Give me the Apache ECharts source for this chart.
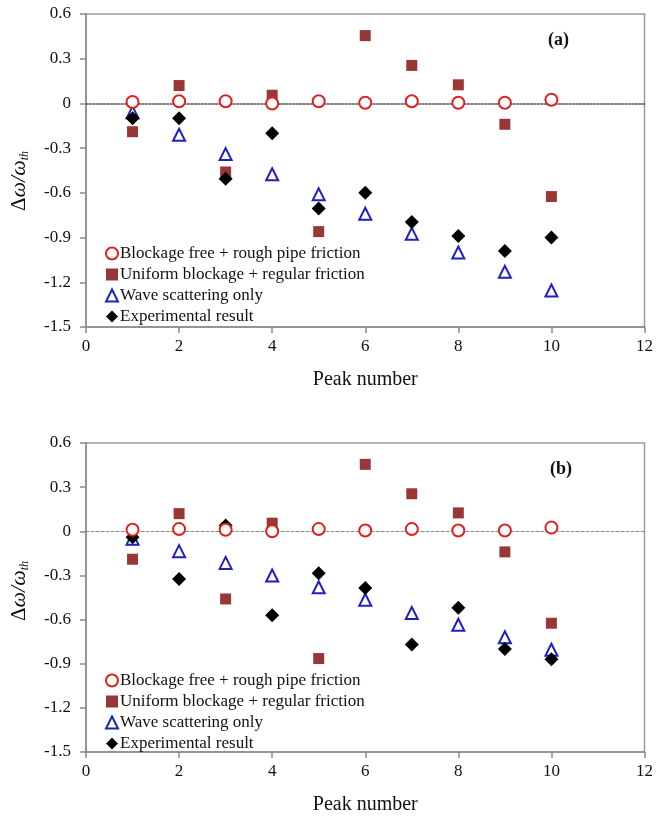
<!DOCTYPE html>
<html>
<head>
<meta charset="utf-8">
<script src="https://cdn.jsdelivr.net/npm/echarts@6/dist/echarts.min.js"></script>
<style>
html,body{margin:0;padding:0;background:#fff;}
#c{width:656px;height:816px;}
</style>
</head>
<body>
<div id="c"></div>
<script>
const peaks = [1, 2, 3, 4, 5, 6, 7, 8, 9, 10];
const seriesNames = ['Blockage free + rough pipe friction', 'Uniform blockage + regular friction', 'Wave scattering only', 'Experimental result'];
const yTicks = [-1.5, -1.2, -0.9, -0.6, -0.3, 0, 0.3, 0.6];
const xTicks = [0, 2, 4, 6, 8, 10, 12];

const aFree = [0.01, 0.015, 0.015, 0.0, 0.015, 0.005, 0.015, 0.005, 0.005, 0.025];
const aUniform = [-0.19, 0.12, -0.46, 0.055, -0.86, 0.455, 0.255, 0.125, -0.14, -0.625];
const aWave = [-0.06, -0.21, -0.34, -0.475, -0.61, -0.74, -0.875, -1.0, -1.13, -1.255];
const aExp = [-0.1, -0.1, -0.505, -0.2, -0.705, -0.6, -0.795, -0.89, -0.99, -0.9];

const bFree = [0.01, 0.015, 0.01, 0.0, 0.015, 0.005, 0.015, 0.005, 0.005, 0.025];
const bUniform = [-0.19, 0.12, -0.46, 0.055, -0.865, 0.455, 0.255, 0.125, -0.14, -0.625];
const bWave = [-0.05, -0.135, -0.215, -0.3, -0.38, -0.465, -0.555, -0.635, -0.72, -0.805];
const bExp = [-0.04, -0.325, 0.04, -0.57, -0.285, -0.385, -0.77, -0.52, -0.8, -0.87];

const panelLabels = ['(a)', '(b)'];
const xName = 'Peak number';

const FONT = '"Liberation Serif", "Times New Roman", serif';
const pair = (ys) => peaks.map((x, i) => [x, ys[i]]);

function xAxisCfg(gi) {
  return {
    gridIndex: gi, type: 'value', min: xTicks[0], max: xTicks[xTicks.length - 1], interval: 2,
    position: 'bottom',
    name: xName, nameLocation: 'middle', nameGap: 43,
    nameTextStyle: { fontFamily: FONT, fontSize: 20, color: '#111' },
    axisLine: { show: true, onZero: false, lineStyle: { color: '#8a8a8a', width: 1.5 } },
    axisTick: { show: true, inside: false, length: 6, lineStyle: { color: '#8a8a8a', width: 1.5 } },
    axisLabel: { margin: 11, fontFamily: FONT, fontSize: 17, color: '#111' },
    splitLine: { show: false }
  };
}
// dashed zero reference line drawn as an axis line sitting on y = 0
function zeroAxisCfg(gi, lineStyle) {
  return {
    gridIndex: gi, type: 'value', min: xTicks[0], max: xTicks[xTicks.length - 1], interval: 2,
    position: 'bottom', offset: 0,
    axisLine: { show: true, onZero: true, lineStyle: lineStyle },
    axisTick: { show: false }, axisLabel: { show: false }, splitLine: { show: false }
  };
}
function yAxisCfg(gi) {
  return {
    gridIndex: gi, type: 'value', min: yTicks[0], max: yTicks[yTicks.length - 1], interval: 0.3,
    axisLine: { show: true, onZero: false, lineStyle: { color: '#8a8a8a', width: 1.5 } },
    axisTick: { show: true, inside: false, length: 6, lineStyle: { color: '#8a8a8a', width: 1.5 } },
    axisLabel: { margin: 15, fontFamily: FONT, fontSize: 17, color: '#111',
      formatter: (v) => String(Number(v.toFixed(1))) },
    splitLine: { show: false }
  };
}

function seriesFor(gi, free, uniform, wave, exp) {
  return [
    { name: seriesNames[0], type: 'scatter', xAxisIndex: gi, yAxisIndex: gi, data: pair(free),
      symbol: 'circle', symbolSize: 12,
      itemStyle: { color: '#ffffff', borderColor: '#e0201e', borderWidth: 2, opacity: 1 }, z: 5 },
    { name: seriesNames[1], type: 'scatter', xAxisIndex: gi, yAxisIndex: gi, data: pair(uniform),
      symbol: 'rect', symbolSize: 11, itemStyle: { color: '#983836', opacity: 1 }, z: 3 },
    { name: seriesNames[2], type: 'scatter', xAxisIndex: gi, yAxisIndex: gi, data: pair(wave),
      symbol: 'triangle', symbolSize: 12,
      itemStyle: { color: '#ffffff', borderColor: '#1f1fc4', borderWidth: 2, opacity: 1 }, z: 3 },
    { name: seriesNames[3], type: 'scatter', xAxisIndex: gi, yAxisIndex: gi, data: pair(exp),
      symbol: 'diamond', symbolSize: 14, itemStyle: { color: '#000000', opacity: 1 }, z: 4 }
  ];
}

function legendCfg(top) {
  return {
    data: seriesNames, orient: 'vertical', left: 100, top: top, itemGap: 4,
    itemWidth: 12, itemHeight: 12, selectedMode: false,
    textStyle: { fontFamily: FONT, fontSize: 17, color: '#111', padding: [0, 0, 0, -3] }
  };
}

function yNameGraphic(cx, cy) {
  return {
    type: 'text', x: cx, y: cy, rotation: Math.PI / 2, silent: true,
    style: {
      text: '{d|Δ}{w|ω/ω}{s|th}', align: 'center', verticalAlign: 'middle',
      fontFamily: FONT, fontSize: 21, fill: '#111',
      rich: {
        d: { fontFamily: FONT, fontSize: 21, fill: '#111' },
        w: { fontFamily: FONT, fontSize: 22, fontStyle: 'italic', fill: '#111' },
        s: { fontFamily: FONT, fontSize: 12, fontStyle: 'italic', fill: '#111', padding: [12, 0, 0, 0] }
      }
    }
  };
}

const chart = echarts.init(document.getElementById('c'), null, { renderer: 'canvas' });
chart.setOption({
  animation: false,
  backgroundColor: '#ffffff',
  grid: [
    { left: 86, top: 14, width: 562, height: 313, show: true, borderColor: '#9a9a9a', borderWidth: 1.5, backgroundColor: 'transparent' },
    { left: 86, top: 443, width: 563, height: 310, show: true, borderColor: '#9a9a9a', borderWidth: 1.5, backgroundColor: 'transparent' }
  ],
  title: [
    { text: panelLabels[0], left: 543, top: 26, textStyle: { fontFamily: FONT, fontSize: 18, fontWeight: 'bold', color: '#111' } },
    { text: panelLabels[1], left: 545, top: 455, textStyle: { fontFamily: FONT, fontSize: 18, fontWeight: 'bold', color: '#111' } }
  ],
  graphic: [yNameGraphic(19, 181), yNameGraphic(19, 591)],
  legend: [legendCfg(240), legendCfg(667)],
  xAxis: [
    xAxisCfg(0), xAxisCfg(1),
    zeroAxisCfg(0, { color: '#555', width: 1.5, type: [2, 1.5] }),
    zeroAxisCfg(1, { color: '#8a8a8a', width: 1, type: [3, 2] })
  ],
  yAxis: [yAxisCfg(0), yAxisCfg(1)],
  series: seriesFor(0, aFree, aUniform, aWave, aExp).concat(seriesFor(1, bFree, bUniform, bWave, bExp))
});
</script>
</body>
</html>
